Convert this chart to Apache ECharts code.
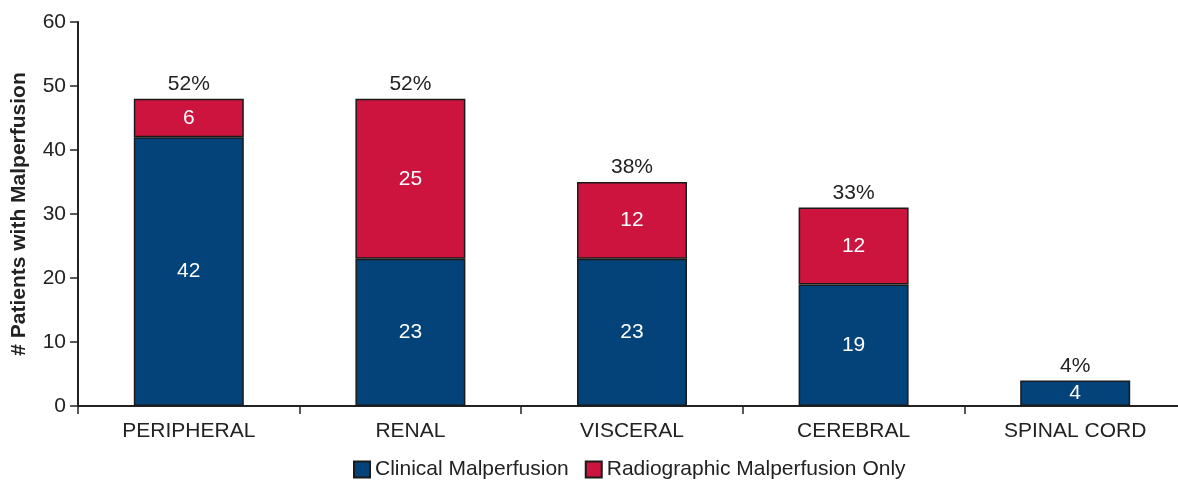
<!DOCTYPE html>
<html>
<head>
<meta charset="utf-8">
<script src="https://cdn.jsdelivr.net/npm/echarts@6/dist/echarts.min.js"></script>
<style>
  html, body { margin: 0; padding: 0; background: #fff; }
  #chart { width: 1178px; height: 480px; }
</style>
</head>
<body>
<div id="chart"></div>
<script>
var categories = ['PERIPHERAL', 'RENAL', 'VISCERAL', 'CEREBRAL', 'SPINAL CORD'];
var clinical = [42, 23, 23, 19, 4];
var radiographic = [6, 25, 12, 12, 0];
var percents = ['52%', '52%', '38%', '33%', '4%'];

var font = 'Liberation Sans, Arial, Helvetica, sans-serif';
var fs = 21;
var border = { borderColor: '#1a1a1a', borderWidth: 1.5 };

var chart = echarts.init(document.getElementById('chart'), null, { renderer: 'canvas' });

var option = {
  backgroundColor: '#ffffff',
  animation: false,
  textStyle: { fontFamily: font },
  grid: { left: 78, right: -8, top: 22, bottom: 74, containLabel: false, outerBoundsMode: 'none' },
  legend: {
    top: 454,
    left: 348,
    icon: 'rect',
    itemWidth: 16,
    itemHeight: 16,
    itemGap: 16,
    textStyle: { fontSize: fs, color: '#222', fontFamily: font },
    data: ['Clinical Malperfusion', 'Radiographic Malperfusion Only']
  },
  xAxis: {
    type: 'category',
    data: categories,
    axisLine: { lineStyle: { color: '#222', width: 2 } },
    axisTick: { show: true, length: 8, lineStyle: { color: '#222', width: 1.5 } },
    axisLabel: { fontSize: fs, color: '#222', margin: 15, fontFamily: font }
  },
  yAxis: {
    type: 'value',
    min: 0,
    max: 60,
    interval: 10,
    name: '# Patients with Malperfusion',
    nameLocation: 'middle',
    nameGap: 48,
    nameTextStyle: { fontSize: fs, fontWeight: 'bold', color: '#222', fontFamily: font },
    axisLine: { show: true, lineStyle: { color: '#222', width: 2 } },
    axisTick: { show: true, length: 8, lineStyle: { color: '#222', width: 1.5 } },
    axisLabel: { fontSize: fs, color: '#222', margin: 12, fontFamily: font },
    splitLine: { show: false }
  },
  series: [
    {
      name: 'Clinical Malperfusion',
      type: 'bar',
      stack: 'total',
      barWidth: 110,
      data: clinical,
      itemStyle: Object.assign({ color: '#03437a' }, border),
      label: { show: true, position: 'inside', color: '#fff', fontSize: fs, fontFamily: font }
    },
    {
      name: 'Radiographic Malperfusion Only',
      type: 'bar',
      stack: 'total',
      barWidth: 110,
      data: radiographic.map(function (v) { return v > 0 ? v : '-'; }),
      itemStyle: Object.assign({ color: '#cc143f' }, border),
      label: { show: true, position: 'inside', color: '#fff', fontSize: fs, fontFamily: font }
    },
    {
      name: 'pct',
      type: 'bar',
      stack: 'total',
      barWidth: 110,
      data: percents.map(function () { return 0; }),
      itemStyle: { color: 'transparent', borderWidth: 0 },
      label: {
        show: true,
        position: 'top',
        distance: 4,
        color: '#222',
        fontSize: fs,
        fontFamily: font,
        formatter: function (p) { return percents[p.dataIndex]; }
      },
      tooltip: { show: false }
    }
  ]
};

chart.setOption(option);
</script>
</body>
</html>
